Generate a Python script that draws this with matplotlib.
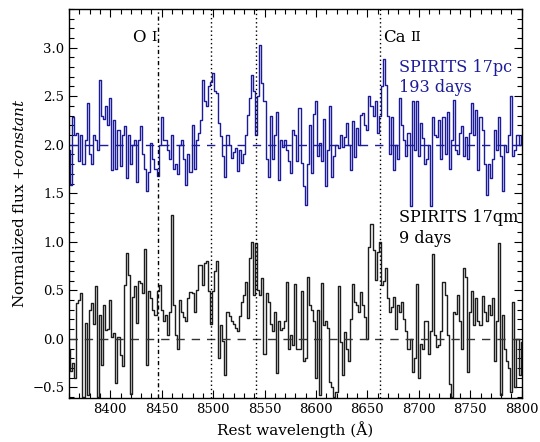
import numpy as np
import matplotlib
matplotlib.use("Agg")
import matplotlib.pyplot as plt
from matplotlib.ticker import MultipleLocator

plt.rcParams['font.family'] = ['DejaVu Serif']
plt.rcParams['mathtext.fontset'] = 'dejavuserif'

wave_start, wave_step = 8360, 2

# SPIRITS 17pc, 193 days (normalized flux minus 1; plotted with +2 offset)
flux_17pc = [
    -0.05, -0.41, 0.29, 0.10, 0.12, -0.17, 0.10, -0.20, 0.05, 0.43,
    -0.10, -0.20, 0.10, 0.05, -0.05, 0.67, 0.30, 0.27, 0.40, 0.20,
    0.48, -0.26, 0.25, -0.25, 0.15, -0.22, 0.10, 0.19, -0.34, 0.10,
    -0.20, 0.00, 0.05, -0.38, 0.05, 0.19, -0.10, -0.25, -0.48, -0.28,
    0.02, -0.15, -0.25, -0.32, 0.00, 0.29, 0.05, 0.05, -0.05, -0.15,
    0.10, -0.25, -0.20, -0.30, 0.00, 0.05, -0.15, -0.41, -0.10, -0.28,
    0.20, -0.25, 0.05, 0.12, 0.25, 0.67, 0.45, 0.40, 0.60, 0.65,
    0.74, 0.55, 0.53, 0.22, 0.09, -0.12, -0.33, 0.10, 0.00, -0.14,
    -0.08, -0.03, -0.27, -0.05, -0.19, -0.10, 0.10, 0.31, 0.48, 0.72,
    0.55, 0.10, 0.50, 1.03, 0.64, 0.45, -0.15, -0.33, 0.30, -0.15,
    0.10, 0.34, -0.36, 0.05, -0.02, 0.05, -0.05, -0.17, -0.29, 0.15,
    0.10, -0.17, 0.38, -0.19, -0.43, -0.62, -0.20, 0.20, -0.29, 0.32,
    0.45, -0.12, 0.02, -0.17, 0.26, -0.43, -0.05, 0.40, -0.33, -0.12,
    0.00, -0.03, 0.10, -0.02, 0.08, 0.22, 0.00, -0.26, 0.24, -0.13,
    0.17, 0.00, 0.31, 0.33, 0.20, 0.15, 0.50, 0.40, 0.30, 0.45,
    0.12, 0.30, 0.60, 0.88, 0.62, 0.30, -0.10, 0.29, -0.26, 0.00,
    -0.15, 0.48, 0.20, 0.05, -0.12, 0.12, -0.63, 0.45, -0.05, 0.45,
    -0.12, 0.22, 0.07, -0.20, -0.15, 0.00, -0.63, 0.29, 0.10, 0.08,
    0.25, -0.15, 0.29, -0.10, 0.34, -0.25, 0.05, 0.46, -0.05, -0.10,
    0.12, 0.19, -0.12, 0.08, -0.15, 0.12, 0.43, 0.10, 0.36, -0.26,
    0.29, 0.15, -0.20, -0.52, -0.20, -0.34, -0.15, 0.15, -0.05, 0.29,
    -0.12, -0.48, 0.00, -0.08, 0.10, 0.50, -0.12, -0.05, 0.10, 0.00,
    0.10,
]

# SPIRITS 17qm, 9 days (normalized flux minus 1; no offset)
flux_17qm = [
    -0.10, -0.33, -0.25, -0.40, 0.37, 0.40, 0.47, -0.60, 0.16, -0.58,
    0.30, 0.37, 0.15, 0.54, -0.60, 0.25, -0.27, 0.35, 0.09, 0.10,
    0.40, 0.02, 0.06, -0.46, 0.02, -0.17, -0.28, 0.55, 0.88, 0.66,
    -0.57, 0.43, 0.54, 0.16, 0.60, 0.58, 0.47, 0.93, -0.27, 0.49,
    0.42, 0.30, 0.25, 0.49, 0.55, 0.30, 0.18, 0.25, 0.04, 0.28,
    1.28, 0.35, 0.04, -0.10, 0.40, 0.28, 0.22, 0.18, 0.42, 0.48,
    0.47, 0.28, 0.50, 0.76, 0.76, 0.55, 0.78, 0.80, 0.49, 0.15,
    0.49, 0.70, 0.80, -0.20, 0.14, -0.02, -0.37, 0.28, 0.23, 0.18,
    0.15, 0.11, 0.08, 0.23, 0.38, 0.45, 0.59, 0.21, 0.83, 1.00,
    0.45, 0.99, 0.50, 0.45, 0.63, -0.16, 0.47, 0.38, 0.15, 0.08,
    0.28, -0.35, 0.18, 0.09, 0.11, 0.18, 0.59, -0.10, 0.04, -0.06,
    0.56, -0.10, -0.10, 0.49, -0.23, -0.20, 0.64, 0.35, 0.30, 0.18,
    -0.40, 0.30, -0.58, 0.57, 0.14, 0.18, 0.11, -0.44, -0.50, -0.60,
    -0.55, 0.54, -0.03, -0.37, 0.07, -0.10, -0.23, 0.20, 0.56, 0.38,
    0.35, 0.28, 0.48, 0.35, 0.22, 0.00, 0.95, 1.18, 0.92, 0.61,
    0.89, 1.00, 0.55, 0.60, 0.73, 0.42, 0.28, 0.33, 0.43, 0.10,
    0.35, 0.28, 0.38, 0.20, 0.08, -0.10, 0.00, -0.34, -0.20, 0.56,
    -0.40, -0.05, -0.10, 0.18, 0.18, -0.16, 0.08, 0.87, 0.04, -0.08,
    -0.06, 0.08, 0.59, 0.45, 0.04, -0.47, -0.60, 0.28, 0.26, 0.45,
    0.18, -0.10, 0.73, 0.64, -0.34, 0.28, 0.49, 0.14, 0.42, 0.18,
    0.14, 0.44, 0.28, 0.18, 0.35, 0.25, 0.42, -0.23, 0.18, 0.99,
    -0.58, 0.25, -0.10, -0.23, -0.30, -0.55, 0.38, -0.50, 0.00, -0.37,
    -0.03,
]

offset_17pc = 2.0
line_wavelengths = [8446, 8498, 8542, 8662]
line_styles = ['dashdot', 'dotted', 'dotted', 'dotted']

wave_pc = wave_start + wave_step * np.arange(len(flux_17pc))
wave_qm = wave_start + wave_step * np.arange(len(flux_17qm))

blue = '#1c1c9a'
dark = '#1e1e1e'

fig = plt.figure(figsize=(5.4, 4.42), dpi=100)
ax = fig.add_axes([0.128, 0.0995, 0.838, 0.8805])

ax.step(wave_pc, np.array(flux_17pc) + offset_17pc, where='mid', color=blue, lw=1.0)
ax.step(wave_qm, np.array(flux_17qm), where='mid', color=dark, lw=1.0)

ax.axhline(offset_17pc, color=blue, lw=1.0, ls=(0, (6, 5)))
ax.axhline(0.0, color='#333333', lw=1.0, ls=(0, (6, 5)))

for w, s in zip(line_wavelengths, line_styles):
    if s == 'dashdot':
        ax.axvline(w, color='k', lw=1.0, ls=(0, (3, 2, 1, 2)))
    else:
        ax.axvline(w, color='k', lw=1.0, ls=(0, (1, 2)))

ax.set_xlim(8360, 8800)
ax.set_ylim(-0.61, 3.4)
ax.xaxis.set_major_locator(MultipleLocator(50))
ax.xaxis.set_minor_locator(MultipleLocator(10))
ax.yaxis.set_major_locator(MultipleLocator(0.5))
ax.yaxis.set_minor_locator(MultipleLocator(0.1))
ax.tick_params(which='both', direction='in', top=True, right=True, labelsize=9.5, width=0.8)
ax.tick_params(which='major', length=6)
ax.tick_params(which='minor', length=3.5)
for sp in ax.spines.values():
    sp.set_linewidth(1.0)

ax.annotate('O', xy=(8421, 3.10), fontsize=12, ha='left', va='center')
ax.annotate('I', xy=(8421, 3.10), xytext=(14, 0), textcoords='offset points',
            fontsize=9.5, ha='left', va='center')
ax.annotate('Ca', xy=(8665, 3.10), fontsize=12, ha='left', va='center')
ax.annotate('II', xy=(8665, 3.10), xytext=(20, 0), textcoords='offset points',
            fontsize=9.5, ha='left', va='center')

ax.text(8681, 2.80, 'SPIRITS 17pc', fontsize=11.5, color=blue, ha='left', va='center')
ax.text(8681, 2.59, '193 days', fontsize=11.5, color=blue, ha='left', va='center')
ax.text(8681, 1.25, 'SPIRITS 17qm', fontsize=11.5, color='k', ha='left', va='center')
ax.text(8681, 1.03, '9 days', fontsize=11.5, color='k', ha='left', va='center')

ax.set_xlabel('Rest wavelength (Å)', fontsize=11)
ax.set_ylabel(r'Normalized flux $+\mathit{constant}$', fontsize=11)

fig.savefig('out.png', dpi=100)
